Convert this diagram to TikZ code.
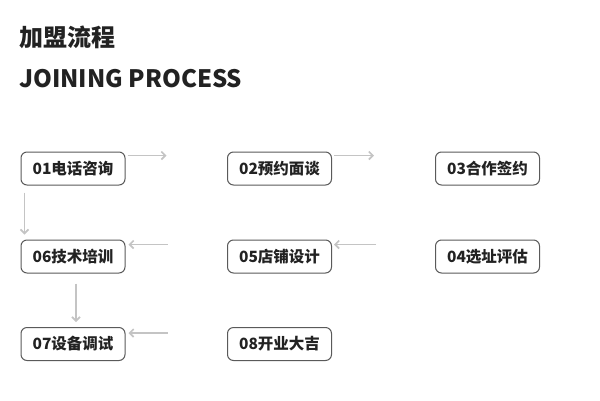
\documentclass[tikz,border=0pt]{standalone}
\usepackage{fontspec}
\setmainfont{Noto Sans CJK SC}
\usetikzlibrary{arrows.meta,calc}
\definecolor{txt}{HTML}{222222}
\definecolor{bord}{HTML}{5A5A5A}
\definecolor{arr}{HTML}{C4C4C4}
\tikzset{
  stepbox/.style={draw=bord,line width=1pt,rounded corners=6pt,minimum width=104pt,minimum height=33pt,inner sep=0pt,text=txt,font=\fontsize{15.5}{16}\selectfont\bfseries},
  flow/.style={draw=arr,line width=1.6pt,-{Straight Barb[length=4pt,width=8pt]}},
}
\begin{document}
\begin{tikzpicture}[x=1pt,y=-1pt]
\useasboundingbox[fill=white] (0,0) rectangle (600,400);
\node[anchor=west,text=txt,font=\fontsize{24}{25}\selectfont\bfseries,inner sep=0pt] (t1) at (19,37) {加盟流程};
\node[anchor=west,text=txt,font=\fontsize{24}{25}\selectfont\bfseries,inner sep=0pt] (t2) at (19,79) {JOINING PROCESS};
\node[stepbox] (n01) at (73,168.5) {01电话咨询};
\node[stepbox] (n02) at (279.5,168.5) {02预约面谈};
\node[stepbox] (n03) at (487.5,168.5) {03合作签约};
\node[stepbox] (n06) at (73,256.5) {06技术培训};
\node[stepbox] (n05) at (279.5,256.5) {05店铺设计};
\node[stepbox] (n04) at (487.5,256.5) {04选址评估};
\node[stepbox] (n07) at (73,344) {07设备调试};
\node[stepbox] (n08) at (279.5,344) {08开业大吉};
\coordinate (a1s) at ($(n01.north east)+(2,4)$);
\coordinate (a1e) at ($(a1s)+(39,0)$);
\coordinate (a2s) at ($(n02.north east)+(2,4)$);
\coordinate (a2e) at ($(a2s)+(40,0)$);
\coordinate (a3s) at ($(n05.north east)+(44,5)$);
\coordinate (a3e) at ($(n05.north east)+(2,5)$);
\coordinate (a4s) at ($(n06.north east)+(42,5)$);
\coordinate (a4e) at ($(n06.north east)+(3,5)$);
\coordinate (a5s) at ($(n07.north east)+(42,6)$);
\coordinate (a5e) at ($(n07.north east)+(3,6)$);
\coordinate (v1s) at ($(n01.south west)+(4,7)$);
\coordinate (v1e) at ($(n06.north west)+(4,-5)$);
\coordinate (v2s) at ($(n06.south)+(3,10)$);
\coordinate (v2e) at ($(n07.north)+(3,-5)$);
\draw[flow] (a1s) -- (a1e);
\draw[flow] (a2s) -- (a2e);
\draw[flow] (a3s) -- (a3e);
\draw[flow] (a4s) -- (a4e);
\draw[flow] (a5s) -- (a5e);
\draw[flow] (v1s) -- (v1e);
\draw[flow] (v2s) -- (v2e);
\end{tikzpicture}
\end{document}
